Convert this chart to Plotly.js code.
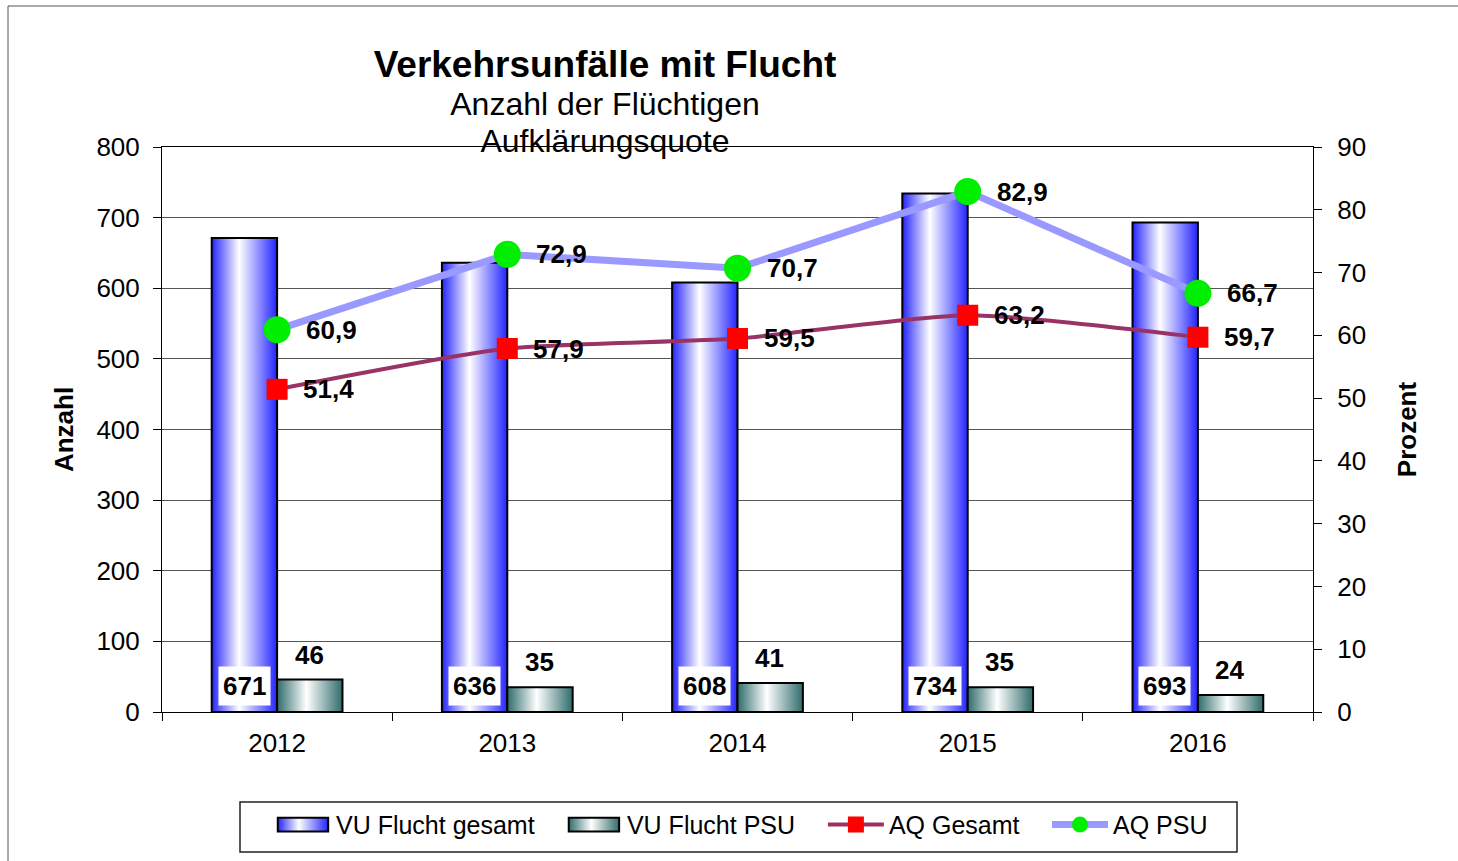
<!DOCTYPE html>
<html><head><meta charset="utf-8">
<script src="https://cdn.plot.ly/plotly-3.0.1.min.js"></script>
<style>html,body{margin:0;padding:0;background:#fff}#chart{width:1458px;height:861px}</style>
</head><body><div id="chart"></div>
<script>
const years = ['2012','2013','2014','2015','2016'];
const vuFluchtGesamt = [671,636,608,734,693];
const vuFluchtPSU = [46,35,41,35,24];
const aqGesamt = [51.4,57.9,59.5,63.2,59.7];
const aqPSU = [60.9,72.9,70.7,82.9,66.7];
const seriesNames = ['VU Flucht gesamt','VU Flucht PSU','AQ Gesamt','AQ PSU'];
const leftTicks = [0,100,200,300,400,500,600,700,800];
const rightTicks = [0,10,20,30,40,50,60,70,80,90];

const FONT = 'Liberation Sans, Arial, Helvetica, sans-serif';
const fmt = v => v.toFixed(1).replace('.', ',');

const traces = [
  {type:'bar', name:seriesNames[0], x:years, y:vuFluchtGesamt, legend:'legend',
   marker:{color:'#3a3aff', line:{color:'#000', width:2}}},
  {type:'bar', name:seriesNames[1], x:years, y:vuFluchtPSU, legend:'legend2',
   marker:{color:'#4a8080', line:{color:'#000', width:2}}},
  {type:'scatter', mode:'lines+markers', name:seriesNames[2], x:years, y:aqGesamt, yaxis:'y2', legend:'legend3',
   line:{color:'#993366', width:4, shape:'spline', smoothing:0.6},
   marker:{symbol:'square', size:21, color:'#ff0000'}},
  {type:'scatter', mode:'lines+markers', name:seriesNames[3], x:years, y:aqPSU, yaxis:'y2', legend:'legend4',
   line:{color:'#9999ff', width:7},
   marker:{symbol:'circle', size:27, color:'#00ee00'}}
];

const annotations = [];
years.forEach((yr, i) => {
  annotations.push({x:i, y:0, xref:'x', yref:'y', text:'<b>'+vuFluchtGesamt[i]+'</b>', showarrow:false,
    xanchor:'center', yanchor:'bottom', xshift:-33, yshift:6, bgcolor:'#ffffff', borderpad:4,
    font:{family:FONT, size:26, color:'#000'}});
  annotations.push({x:i, y:vuFluchtPSU[i], xref:'x', yref:'y', text:'<b>'+vuFluchtPSU[i]+'</b>', showarrow:false,
    xanchor:'center', yanchor:'bottom', xshift:32, yshift:8,
    font:{family:FONT, size:26, color:'#000'}});
  annotations.push({x:i, y:aqGesamt[i], xref:'x', yref:'y2', text:'<b>'+fmt(aqGesamt[i])+'</b>', showarrow:false,
    xanchor:'left', yanchor:'middle', xshift:24,
    font:{family:FONT, size:26, color:'#000'}});
  annotations.push({x:i, y:aqPSU[i], xref:'x', yref:'y2', text:'<b>'+fmt(aqPSU[i])+'</b>', showarrow:false,
    xanchor:'left', yanchor:'middle', xshift:27,
    font:{family:FONT, size:26, color:'#000'}});
});

const legendBase = {orientation:'h', xanchor:'left', y:-0.159, yanchor:'top',
  borderwidth:0, bgcolor:'rgba(0,0,0,0)', font:{family:FONT, size:25, color:'#000'}, itemwidth:56};
const legendX = [0.0938, 0.3466, 0.5742, 0.7689];

const layout = {
  width:1458, height:861,
  margin:{l:162, r:145, t:147, b:149, autoexpand:false},
  paper_bgcolor:'#fff', plot_bgcolor:'#fff',
  font:{family:FONT, size:26, color:'#000'},
  separators:',.',
  showlegend:true,
  barmode:'group', bargap:0.432, bargroupgap:0,
  title:{
    text:"<span style='font-size:37px'><b>Verkehrsunfälle mit Flucht</b></span><br><span style='font-size:32px'>Anzahl der Flüchtigen</span><br><span style='font-size:32px'>Aufklärungsquote</span>",
    font:{family:FONT, size:29, color:'#000'},
    x:605/1458, xanchor:'center', xref:'container',
    y:1-77/861, yanchor:'top', yref:'container'
  },
  xaxis:{type:'category', range:[-0.5,4.5], showline:true, linecolor:'#000', linewidth:1, mirror:true,
    ticks:'outside', tickson:'boundaries', ticklen:8, tickcolor:'#000', ticklabelstandoff:8,
    tickfont:{family:FONT, size:26}, showgrid:false, zeroline:false, fixedrange:true},
  yaxis:{range:[0,800], tickvals:leftTicks, showline:true, linecolor:'#000', linewidth:1,
    ticks:'outside', ticklen:8, tickcolor:'#000', ticklabelstandoff:8,
    showgrid:true, gridcolor:'#555', gridwidth:1, zeroline:false,
    tickfont:{family:FONT, size:26},
    title:{text:'<b>Anzahl</b>', font:{family:FONT, size:26}, standoff:15}},
  yaxis2:{range:[0,90], tickvals:rightTicks, overlaying:'y', side:'right',
    showline:true, linecolor:'#000', linewidth:1,
    ticks:'outside', ticklen:8, tickcolor:'#000', ticklabelstandoff:10,
    showgrid:false, zeroline:false, tickfont:{family:FONT, size:26},
    title:{text:'<b>Prozent</b>', font:{family:FONT, size:26}, standoff:32}},
  legend:Object.assign({}, legendBase, {x:legendX[0]}),
  legend2:Object.assign({}, legendBase, {x:legendX[1]}),
  legend3:Object.assign({}, legendBase, {x:legendX[2]}),
  legend4:Object.assign({}, legendBase, {x:legendX[3]}),
  shapes:[
    {type:'rect', xref:'paper', yref:'paper', x0:(8-162)/1151, x1:(1470-162)/1151,
     y0:(712-880)/565, y1:(712-6)/565, line:{color:'#555', width:1}, fillcolor:'rgba(0,0,0,0)', layer:'below'},
    {type:'rect', xref:'paper', yref:'paper', x0:(240-162)/1151, x1:(1237-162)/1151,
     y0:(712-852)/565, y1:(712-802)/565, line:{color:'#222', width:1.5}, fillcolor:'rgba(0,0,0,0)', layer:'below'}
  ],
  annotations:annotations
};

Plotly.newPlot('chart', traces, layout, {staticPlot:true, displayModeBar:false}).then(gd => {
  const ns = 'http://www.w3.org/2000/svg';
  const svg = gd.querySelector('svg.main-svg');
  let defs = svg.querySelector('defs');
  if (!defs) { defs = document.createElementNS(ns, 'defs'); svg.insertBefore(defs, svg.firstChild); }
  function grad(id, edge, mid, pos) {
    const lg = document.createElementNS(ns, 'linearGradient');
    lg.setAttribute('id', id);
    lg.setAttribute('x1', '0'); lg.setAttribute('x2', '1');
    lg.setAttribute('y1', '0'); lg.setAttribute('y2', '0');
    [[0, edge], [pos, mid], [1, edge]].forEach(([o, c]) => {
      const s = document.createElementNS(ns, 'stop');
      s.setAttribute('offset', o); s.setAttribute('stop-color', c);
      lg.appendChild(s);
    });
    defs.appendChild(lg);
  }
  grad('gBlue', '#2424ff', '#ffffff', 0.42);
  grad('gTeal', '#2f6b6b', '#ffffff', 0.45);
  const gradByName = {};
  gradByName[seriesNames[0]] = 'gBlue';
  gradByName[seriesNames[1]] = 'gTeal';
  gd.querySelectorAll('.barlayer .trace.bars').forEach(g => {
    const d = g.__data__;
    const tr = d && d[0] && d[0].trace;
    const id = tr ? gradByName[tr.name] : null;
    if (id) g.querySelectorAll('path').forEach(p => { p.style.fill = 'url(#' + id + ')'; });
  });
  gd.querySelectorAll('g.traces').forEach(g => {
    const d = g.__data__;
    const tr = d && d[0] && d[0].trace;
    const id = tr ? gradByName[tr.name] : null;
    if (id) g.querySelectorAll('.legendpoints path').forEach(p => {
      const old = p.getAttribute('transform') || '';
      p.style.fill = 'url(#' + id + ')';
      p.setAttribute('transform', old + ' scale(4.2,1.15)');
      p.style.vectorEffect = 'non-scaling-stroke';
    });
  });
});
</script>
</body></html>
